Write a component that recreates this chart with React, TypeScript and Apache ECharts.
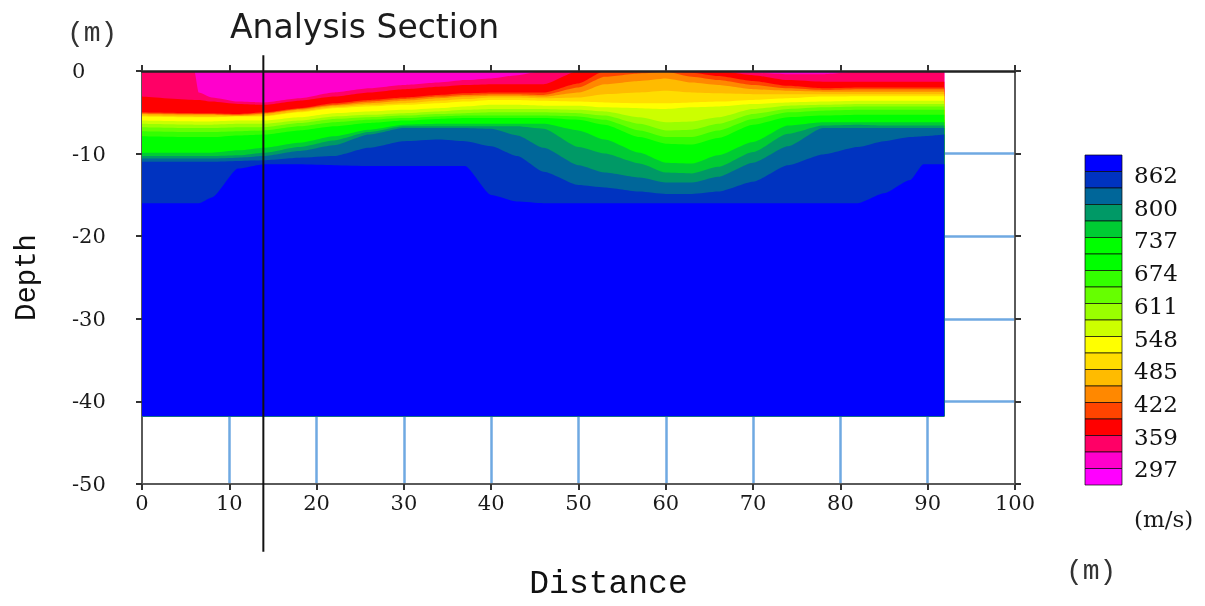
import React, { useEffect, useRef } from "react";
import * as echarts from "echarts";

const titleText = "Analysis Section";
const xTicks = [0, 10, 20, 30, 40, 50, 60, 70, 80, 90, 100];
const legendLabels = ["862", "800", "737", "674", "611", "548", "485", "422", "359", "297"];
const analysisLine = [13.9, 1.9, -58.2];
const sectionBottom = -41.8;

// shallow to deep
const bandColors = [
  "#ff00ff", "#ff00cc", "#ff0066", "#ff0000", "#ff4400", "#ff8800", "#ffbb00", "#ffdd00", "#ffff00", "#ccff00",
  "#99ff00", "#66ff00", "#33ff00", "#00ff00", "#00ff00", "#00cc33", "#009966", "#006699", "#0033c0", "#0000ff",
];

const dist = [0, 6, 6.5, 8, 11, 14, 18, 22, 26, 30, 34, 37, 40, 43, 46, 50, 53, 57, 60, 63, 66, 70, 74, 78, 82, 85, 88, 89.5, 91.9];
const b0 = [0, 0, 0, 0, 0, 0, 0, 0, 0, 0, 0, 0, 0, 0, 0, 0, 0, 0, 0, 0, 0, 0, 0, 0, 0, 0, 0, 0, 0];
const b1 = [0, 0, 0, 0, 0, 0, 0, 0, 0, 0, 0, 0, 0, 0, 0, 0, 0, 0, 0, 0, 0, 0, -0.2, -0.2, 0, 0, 0, 0, 0];
const b2 = [0, 0, -2.6, -3.2, -3.7, -3.8, -3.3, -2.6, -2.1, -1.7, -1.4, -1.1, -0.9, -0.5, 0, 0, 0, 0, 0, 0, 0, -0.2, -0.4, -0.4, -0.1, 0, 0, 0, 0];
const b3 = [-3.1, -3.5, -3.5, -3.7, -4, -4.1, -3.6, -3.1, -2.6, -2.2, -1.9, -1.7, -1.6, -1.6, -1.6, 0, 0, 0, 0, 0, 0, -0.5, -1.1, -1.3, -1.3, -1.3, -1.3, -1.3, -1.3];
const b4 = [-5, -5.1, -5.1, -5.1, -5.2, -5, -4.5, -3.9, -3.5, -3.2, -2.9, -2.7, -2.6, -2.6, -2.6, -1.5, 0, 0, 0, -0.2, -0.6, -1.2, -1.8, -2.1, -2, -2, -2, -2, -2];
const b5 = [-5.1, -5.2, -5.2, -5.2, -5.3, -5.1, -4.6, -4.1, -3.7, -3.4, -3.1, -2.9, -2.8, -2.8, -2.9, -2, -0.7, -0.3, -0.1, -0.7, -1.1, -1.7, -2.1, -2.3, -2.2, -2.2, -2.2, -2.2, -2.2];
const b6 = [-5.2, -5.3, -5.3, -5.3, -5.4, -5.2, -4.7, -4.2, -3.9, -3.6, -3.3, -3.1, -3, -3, -3.1, -2.6, -1.6, -1.2, -0.9, -1.4, -1.7, -2.2, -2.4, -2.5, -2.5, -2.5, -2.5, -2.5, -2.5];
const b7 = [-5.4, -5.5, -5.5, -5.5, -5.45, -5.4, -4.9, -4.4, -4.1, -3.9, -3.6, -3.4, -3.2, -3.2, -3.3, -3.2, -2.8, -2.6, -2.4, -2.6, -2.7, -2.8, -2.8, -2.8, -2.8, -2.8, -2.8, -2.8, -2.8];
const b8 = [-5.5, -5.6, -5.6, -5.6, -5.5, -5.5, -5, -4.5, -4.3, -4.1, -3.9, -3.7, -3.5, -3.5, -3.6, -3.7, -3.8, -3.9, -3.9, -3.8, -3.7, -3.5, -3.3, -3.1, -3.05, -3.05, -3.05, -3.05, -3.05];
const b9 = [-6, -6.1, -6.1, -6.1, -6, -6, -5.6, -5.1, -4.9, -4.7, -4.5, -4.3, -4.1, -4.1, -4.2, -4.2, -4.4, -4.5, -4.6, -4.4, -4.3, -4, -3.8, -3.7, -3.6, -3.6, -3.6, -3.6, -3.6];
const b10 = [-6.4, -6.5, -6.5, -6.5, -6.4, -6.4, -6, -5.5, -5.3, -5.1, -4.9, -4.7, -4.6, -4.6, -4.6, -4.7, -4.9, -5.6, -6.2, -6.1, -5.6, -4.6, -4.2, -4.1, -4, -4, -4, -4, -4];
const b11 = [-6.8, -6.9, -6.9, -6.9, -6.8, -6.8, -6.3, -5.8, -5.6, -5.4, -5.2, -5.1, -5, -5, -5, -5.1, -5.4, -6.4, -7.2, -7.1, -6.4, -5.2, -4.6, -4.4, -4.3, -4.3, -4.3, -4.3, -4.3];
const b12 = [-7.3, -7.4, -7.4, -7.4, -7.3, -7.2, -6.7, -6.2, -5.9, -5.7, -5.5, -5.4, -5.4, -5.4, -5.4, -5.5, -5.9, -7.2, -8, -8, -7.2, -5.8, -5, -4.8, -4.7, -4.7, -4.7, -4.7, -4.7];
const b13 = [-7.9, -8, -8, -8, -7.8, -7.7, -7.2, -6.7, -6.3, -6, -5.8, -5.7, -5.7, -5.7, -5.7, -5.9, -6.5, -8, -8.8, -8.9, -8.1, -6.5, -5.6, -5.4, -5.3, -5.3, -5.3, -5.3, -5.3];
const b14 = [-9, -9, -9, -9, -8.8, -8.5, -8, -7.4, -6.8, -6.3, -6.2, -6.1, -6.1, -6.1, -6.1, -6.4, -7.3, -8.9, -10, -10.2, -9.2, -7.5, -6.2, -5.9, -5.9, -5.9, -5.9, -5.9, -5.9];
const b15 = [-9.9, -9.9, -9.9, -9.9, -9.6, -9.3, -8.7, -7.9, -7.1, -6.5, -6.4, -6.4, -6.4, -6.4, -6.4, -7.2, -8.3, -9.9, -11.1, -11.2, -10.2, -8.6, -6.6, -6.2, -6.2, -6.2, -6.2, -6.2, -6.2];
const b16 = [-10.3, -10.3, -10.3, -10.3, -10.2, -9.9, -9.2, -8.4, -7.4, -6.7, -6.7, -6.7, -6.7, -6.7, -7, -9.2, -10, -11.2, -12.3, -12.4, -11.6, -9.8, -7.6, -6.6, -6.5, -6.6, -6.6, -6.6, -6.6];
const b17 = [-10.6, -10.6, -10.6, -10.6, -10.5, -10.3, -9.7, -9, -7.7, -6.9, -6.9, -6.9, -7, -7.8, -9.3, -11.4, -12.3, -12.9, -13.5, -13.5, -12.8, -11.1, -9.1, -6.9, -6.9, -6.9, -6.9, -6.9, -6.9];
const b18 = [-11, -11, -11, -11, -10.9, -10.8, -10.5, -10.3, -9.3, -8.5, -8.3, -8.5, -9.1, -10.3, -12.2, -13.8, -14.1, -14.6, -14.9, -14.9, -14.6, -13.4, -11.4, -10.1, -9.2, -8.5, -8, -7.9, -7.7];
const b19 = [-16, -16, -16, -15.3, -11.8, -11.3, -11.3, -11.4, -11.5, -11.5, -11.5, -11.5, -15, -15.8, -16, -16, -16, -16, -16, -16, -16, -16, -16, -16, -16, -14.8, -13.2, -11.3, -11.3];
const boundaries = [b0, b1, b2, b3, b4, b5, b6, b7, b8, b9, b10, b11, b12, b13, b14, b15, b16, b17, b18, b19];

const SERIF = '"DejaVu Serif", serif';
const MONO = '"Liberation Mono", monospace';
const LEG_TOP = 155;
const LEG_STEP = 16.5;

export default function App() {
  const ref = useRef<HTMLDivElement>(null);
  useEffect(() => {
    const chart = echarts.init(ref.current!, undefined, { renderer: "svg" });
    const frame = "#5a5a5a";
    const grid = "#6fa9e2";
    const tickStyle = { show: true, length: 6, lineStyle: { color: "#333", width: 2 } };
    const bands = boundaries.map((b, i) => ({
      type: "line",
      name: "band" + i,
      data: dist.map((d, k) => [d, b[k]]),
      showSymbol: false,
      silent: true,
      smooth: 0.2,
      smoothMonotone: "x",
      lineStyle: { width: 0 },
      areaStyle: { color: bandColors[i], opacity: 1, origin: sectionBottom },
      z: 2 + i * 0.01,
    }));
    const swatches = bandColors.slice().reverse().map((c, i) => ({
      type: "rect",
      shape: { x: 1085, y: LEG_TOP + i * LEG_STEP, width: 37, height: LEG_STEP },
      style: { fill: c, stroke: "rgba(10,10,10,0.7)", lineWidth: 1 },
    }));
    const legendTexts = legendLabels.map((t, i) => ({
      type: "text",
      x: 1134,
      y: 175 + i * 32.7,
      style: { text: t, font: `23px ${SERIF}`, fill: "#111", textVerticalAlign: "middle" },
    }));
    chart.setOption({
      animation: false,
      backgroundColor: "#ffffff",
      title: {
        text: titleText,
        left: 225,
        top: 5,
        textStyle: { fontFamily: '"DejaVu Sans"', fontSize: 33, fontWeight: "normal", color: "#1c1c1c" },
      },
      grid: { left: 142, top: 71, width: 873, height: 414, containLabel: false },
      xAxis: [
        {
          type: "value", min: 0, max: 100, interval: 10, position: "bottom",
          axisLine: { show: true, onZero: false, lineStyle: { color: frame, width: 2 } },
          axisTick: tickStyle,
          axisLabel: { margin: 8, fontFamily: SERIF, fontSize: 21, color: "#1a1a1a" },
          splitLine: { show: true, showMinLine: false, showMaxLine: false, lineStyle: { color: grid, width: 2.5 } },
          name: "Distance",
          nameLocation: "middle",
          nameGap: 84,
          nameTextStyle: { fontFamily: MONO, fontSize: 33, color: "#111", padding: [0, 0, 0, 60] },
        },
        {
          type: "value", min: 0, max: 100, interval: 10, position: "top", z: 10,
          axisLine: { show: true, onZero: false, lineStyle: { color: "#222", width: 2.5 } },
          axisTick: tickStyle,
          axisLabel: { show: false },
          splitLine: { show: false },
        },
      ],
      yAxis: [
        {
          type: "value", min: -50, max: 0, interval: 10, position: "left",
          axisLine: { show: true, onZero: false, lineStyle: { color: frame, width: 2 } },
          axisTick: tickStyle,
          axisLabel: { margin: 70, align: "left", fontFamily: SERIF, fontSize: 21, color: "#1a1a1a", padding: [0, 0, 11, 0] },
          splitLine: { show: true, showMinLine: false, showMaxLine: false, lineStyle: { color: grid, width: 2.5 } },
          name: "Depth",
          nameLocation: "middle",
          nameGap: 100,
          nameTextStyle: { fontFamily: MONO, fontSize: 29, color: "#111" },
        },
        {
          type: "value", min: -50, max: 0, interval: 10, position: "right", z: 10,
          axisLine: { show: true, onZero: false, lineStyle: { color: frame, width: 2 } },
          axisTick: tickStyle,
          axisLabel: { show: false },
          splitLine: { show: false },
        },
      ],
      series: [
        ...bands,
        {
          type: "custom",
          name: "Analysis Section line",
          clip: false,
          silent: true,
          z: 20,
          data: [analysisLine],
          encode: { x: 0, y: 1 },
          renderItem: (_: any, api: any) => {
            const a = api.coord([api.value(0), api.value(1)]);
            const b = api.coord([api.value(0), api.value(2)]);
            return {
              type: "line",
              shape: { x1: a[0], y1: a[1], x2: b[0], y2: b[1] },
              style: { stroke: "#111", lineWidth: 2 },
            };
          },
        },
      ],
      graphic: [
        ...swatches,
        ...legendTexts,
        { type: "text", x: 1134, y: 519, style: { text: "(m/s)", font: `23px ${SERIF}`, fill: "#1a1a1a", textVerticalAlign: "middle" } },
        { type: "text", x: 67, y: 33, style: { text: "(m)", font: `28px ${MONO}`, fill: "#333", textVerticalAlign: "middle" } },
        { type: "text", x: 1066, y: 571, style: { text: "(m)", font: `28px ${MONO}`, fill: "#333", textVerticalAlign: "middle" } },
      ],
    });
    return () => chart.dispose();
  }, []);
  return (
    <div
      ref={ref}
      style={{ position: "absolute", left: 0, top: 0, width: 1205, height: 606, filter: "blur(0.7px)" }}
    />
  );
}
